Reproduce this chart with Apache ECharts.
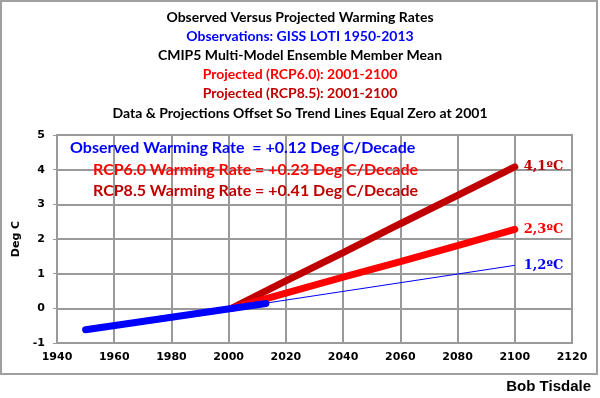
<!DOCTYPE html>
<html><head><meta charset="utf-8">
<script src="https://cdn.jsdelivr.net/npm/echarts@6/dist/echarts.min.js"></script>
<style>html,body{margin:0;padding:0;background:#fff}#c{width:600px;height:398px}</style>
</head><body><div id="c"></div>
<script>
// Data
const obsYears = [1950, 2013];
const obsVals = [-0.62, 0.14];
const obsTrendYears = [2001, 2100];
const obsTrendVals = [0, 1.24];
const rcp60Years = [2001, 2020, 2040, 2060, 2080, 2100];
const rcp60Vals = [0, 0.44, 0.9, 1.35, 1.81, 2.28];
const rcp85Years = [2001, 2020, 2040, 2060, 2080, 2100];
const rcp85Vals = [0, 0.79, 1.61, 2.44, 3.26, 4.08];
const endLabels = {rcp85: '4,1ºC', rcp60: '2,3ºC', obs: '1,2ºC'};
const titleLines = [
  ['Observed Versus Projected Warming Rates', '#000'],
  ['Observations: GISS LOTI 1950-2013', '#0000ff'],
  ['CMIP5 Multi-Model Ensemble Member Mean', '#000'],
  ['Projected (RCP6.0): 2001-2100', '#ff0000'],
  ['Projected (RCP8.5): 2001-2100', '#c00000'],
  ['Data & Projections Offset So Trend Lines Equal Zero at 2001', '#000']
];
const rateLines = [
  ['Observed Warming Rate  = +0.12 Deg C/Decade', '#0000ff', 70, 148],
  ['RCP6.0 Warming Rate = +0.23 Deg C/Decade', '#ff0000', 93, 170],
  ['RCP8.5 Warming Rate = +0.41 Deg C/Decade', '#c00000', 93, 191]
];

const pairs = (xs, ys) => xs.map((x, i) => [x, ys[i]]);
function endLabel(text, color) {
  return {
    show: true, distance: 9, formatter: text,
    color: color, fontFamily: 'DejaVu Serif', fontWeight: 'bold', fontSize: 13
  };
}

const chart = echarts.init(document.getElementById('c'), null, {renderer: 'canvas'});
const graphics = [
  {type: 'rect', shape: {x: 1, y: 1, width: 596, height: 373}, style: {fill: 'none', stroke: '#a0a0a0', lineWidth: 2}, silent: true},
  {type: 'text', right: 9, top: 379, style: {text: 'Bob Tisdale', fill: '#000', font: 'bold 15px "Liberation Sans", Arial'}}
];
titleLines.forEach((t, i) => {
  graphics.push({type: 'text', x: 300, y: 17 + i * 19.2, style: {text: t[0], fill: t[1], font: 'bold 14px Lato', align: 'center', verticalAlign: 'middle'}});
});
rateLines.forEach((t) => {
  graphics.push({type: 'text', z: 100, x: t[2], y: t[3], style: {text: t[0], fill: t[1], font: 'bold 16px Lato', align: 'left', verticalAlign: 'middle'}});
});

const axisFont = {color: '#000', fontWeight: 'bold', fontSize: 11, fontFamily: 'DejaVu Sans'};
const option = {
  backgroundColor: '#fff',
  animation: false,
  grid: {left: 57, right: 28, top: 135, bottom: 55, show: true, borderColor: '#9a9a9a', borderWidth: 2},
  xAxis: {
    type: 'value', min: 1940, max: 2120, interval: 20,
    axisLine: {show: true, lineStyle: {color: '#9a9a9a', width: 2}},
    axisTick: {show: false},
    splitLine: {show: true, lineStyle: {color: '#9a9a9a', width: 2}},
    axisLabel: Object.assign({margin: 9, formatter: v => String(v)}, axisFont)
  },
  yAxis: {
    type: 'value', min: -1, max: 5, interval: 1,
    name: 'Deg C', nameLocation: 'middle', nameGap: 28, nameRotate: 90,
    nameTextStyle: axisFont,
    axisLine: {show: true, lineStyle: {color: '#9a9a9a', width: 2}},
    axisTick: {show: true, length: 4, lineStyle: {color: '#9a9a9a'}},
    splitLine: {show: true, lineStyle: {color: '#9a9a9a', width: 2}},
    axisLabel: Object.assign({margin: 12}, axisFont)
  },
  graphic: graphics,
  series: [
    {type: 'line', name: 'RCP8.5', data: pairs(rcp85Years, rcp85Vals), showSymbol: false, symbol: 'none',
      endLabel: endLabel(endLabels.rcp85, '#c00000'),
      lineStyle: {color: '#c00000', width: 7, cap: 'round'}},
    {type: 'line', name: 'RCP6.0', data: pairs(rcp60Years, rcp60Vals), showSymbol: false, symbol: 'none',
      endLabel: endLabel(endLabels.rcp60, '#ff0000'),
      lineStyle: {color: '#ff0000', width: 7, cap: 'round'}},
    {type: 'line', name: 'Obs trend', data: pairs(obsTrendYears, obsTrendVals), showSymbol: false, symbol: 'none',
      endLabel: endLabel(endLabels.obs, '#0000ff'),
      lineStyle: {color: '#0000ff', width: 1}},
    {type: 'line', name: 'Observed', data: pairs(obsYears, obsVals), showSymbol: false, symbol: 'none',
      lineStyle: {color: '#0000ff', width: 7, cap: 'round'}}
  ]
};
chart.setOption(option);
</script></body></html>
